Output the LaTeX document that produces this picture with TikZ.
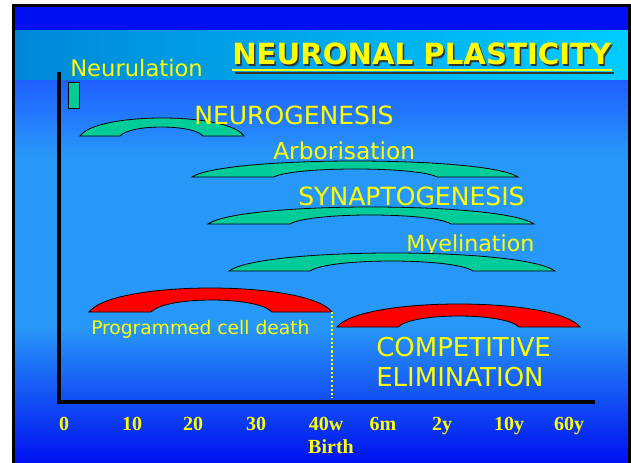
\documentclass[tikz,border=0pt]{standalone}
\usepackage{fontspec}
\setmainfont{DejaVu Sans}
\newfontfamily\axisfont{Liberation Serif}
\usepackage{tikz}
\usetikzlibrary{positioning}
\definecolor{bandtop}{RGB}{0,16,240}
\definecolor{bandleft}{RGB}{0,136,216}
\definecolor{bandright}{RGB}{0,204,255}
\definecolor{bgtop}{RGB}{30,96,255}
\definecolor{bgmid}{RGB}{40,152,248}
\definecolor{bgbot}{RGB}{0,16,240}
\definecolor{growth}{RGB}{0,204,153}
\definecolor{loss}{RGB}{255,0,0}
\definecolor{txtyellow}{RGB}{255,255,0}
\pgfdeclareverticalshading{slidebg}{100bp}{color(0bp)=(bgbot); color(25bp)=(bgbot); color(43bp)=(bgmid); color(65bp)=(bgmid); color(75bp)=(bgtop); color(100bp)=(bgtop)}

% #1 fill, #2/#3 outer ends, #4/#5 inner ends, #6 bottom, #7 top, #8 inner top
\newcommand{\bridge}[8]{%
  \filldraw[fill=#1, draw=black, line width=0.6pt]
    (#2,#6) .. controls ({#2+0.1*(#3-#2)},{#6+(#7-#6)*4/3}) and ({#3-0.1*(#3-#2)},{#6+(#7-#6)*4/3}) .. (#3,#6)
    -- (#5,#6) .. controls ({#5-0.12*(#5-#4)},{#6+(#8-#6)*4/3}) and ({#4+0.12*(#5-#4)},{#6+(#8-#6)*4/3}) .. (#4,#6)
    -- cycle;}

\begin{document}
\begin{tikzpicture}[x=0.75pt, y=-0.75pt]
    \tikzstyle{stage} = [text=txtyellow, inner sep=0pt, anchor=base west, font=\fontsize{17.5}{20}\selectfont]
    \tikzstyle{stagecaps} = [stage, font=\fontsize{18.8}{21}\selectfont]
    \tikzstyle{tick} = [text=txtyellow, inner sep=0pt, anchor=base, font=\axisfont\bfseries\fontsize{15}{17}\selectfont]
    \tikzstyle{axis} = [black, line width=2.3pt]

    \useasboundingbox (0,0) rectangle (631,463);
    \fill[white] (0,0) rectangle (631,463);
    \fill[bandtop] (14,6) rectangle (629,31);
    \shade[left color=bandleft, right color=bandright] (14,31) rectangle (629,81);
    \shade[shading=slidebg] (14,81) rectangle (629,463);
    \draw[black, line width=2.2pt] (13.5,5.5) rectangle (629.5,480);

    \node [text=black!80, inner sep=0pt, anchor=base west, font=\bfseries\fontsize{21.9}{24}\selectfont] (titleshadow) at (233.5,66.5) {NEURONAL PLASTICITY};
    \node [text=txtyellow, inner sep=0pt, anchor=base west, font=\bfseries\fontsize{21.9}{24}\selectfont] (title) at (232,65) {NEURONAL PLASTICITY};
    \draw [black!80, line width=1.6pt] ([xshift=0.75pt, yshift=-5pt]titleshadow.base west) -- ([xshift=0.75pt, yshift=-5pt]titleshadow.base east);
    \draw [txtyellow, line width=1.6pt] ([yshift=-4pt]title.base west) -- ([yshift=-4pt]title.base east);

    \node [stage, font=\fontsize{17}{20}\selectfont] (neurulation) at (70,77) {Neurulation};
    \filldraw [fill=growth, draw=black, line width=0.6pt] (68,82) rectangle (79,108);

    \draw [axis] (59,72) -- (59,402) -- (595,402);

    \bridge{growth}{80}{244}{120}{203}{136}{118}{127}
    \bridge{growth}{192}{518}{274}{437}{177}{161}{169}
    \bridge{growth}{208}{534}{290}{451}{224}{207}{215}
    \node [stage, font=\fontsize{16.6}{19}\selectfont] (myelination) at (406,252) {Myelination};
    \bridge{growth}{229}{555}{310}{473}{271}{253}{261}
    \bridge{loss}{89}{332}{151}{272}{312}{288}{300}
    \bridge{loss}{337}{580}{398}{519}{327}{304}{316}

    \node [stagecaps] (neurogenesis) at (194,125) {NEUROGENESIS};
    \node [stage] (arborisation) at (273,160) {Arborisation};
    \node [stagecaps] (synaptogenesis) at (298,206) {SYNAPTOGENESIS};
    \node [stage, font=\fontsize{14}{16}\selectfont] (death) at (91,334) {Programmed cell death};
    \node [stage, font=\fontsize{19.5}{22}\selectfont] (competitive) at (376,356) {COMPETITIVE};
    \node [stage, font=\fontsize{19.5}{22}\selectfont] (elimination) at (376,386) {ELIMINATION};

    \coordinate (deathend) at (332,312);
    \coordinate (birthmark) at (332,398);
    \draw [txtyellow, line width=1.6pt, dash pattern=on 1.6pt off 1.6pt] (deathend) -- (birthmark);

    \node [tick] (t0) at (64,430) {0};
    \node [tick] (t10) at (132,430) {10};
    \node [tick] (t20) at (193,430) {20};
    \node [tick] (t30) at (256,430) {30};
    \node [tick] (t40) at (326,430) {40w};
    \node [tick] (t6m) at (383,430) {6m};
    \node [tick] (t2y) at (442,430) {2y};
    \node [tick] (t10y) at (509,430) {10y};
    \node [tick] (t60y) at (569,430) {60y};
    \node [tick] (birth) at (331,453) {Birth};
\end{tikzpicture}
\end{document}
